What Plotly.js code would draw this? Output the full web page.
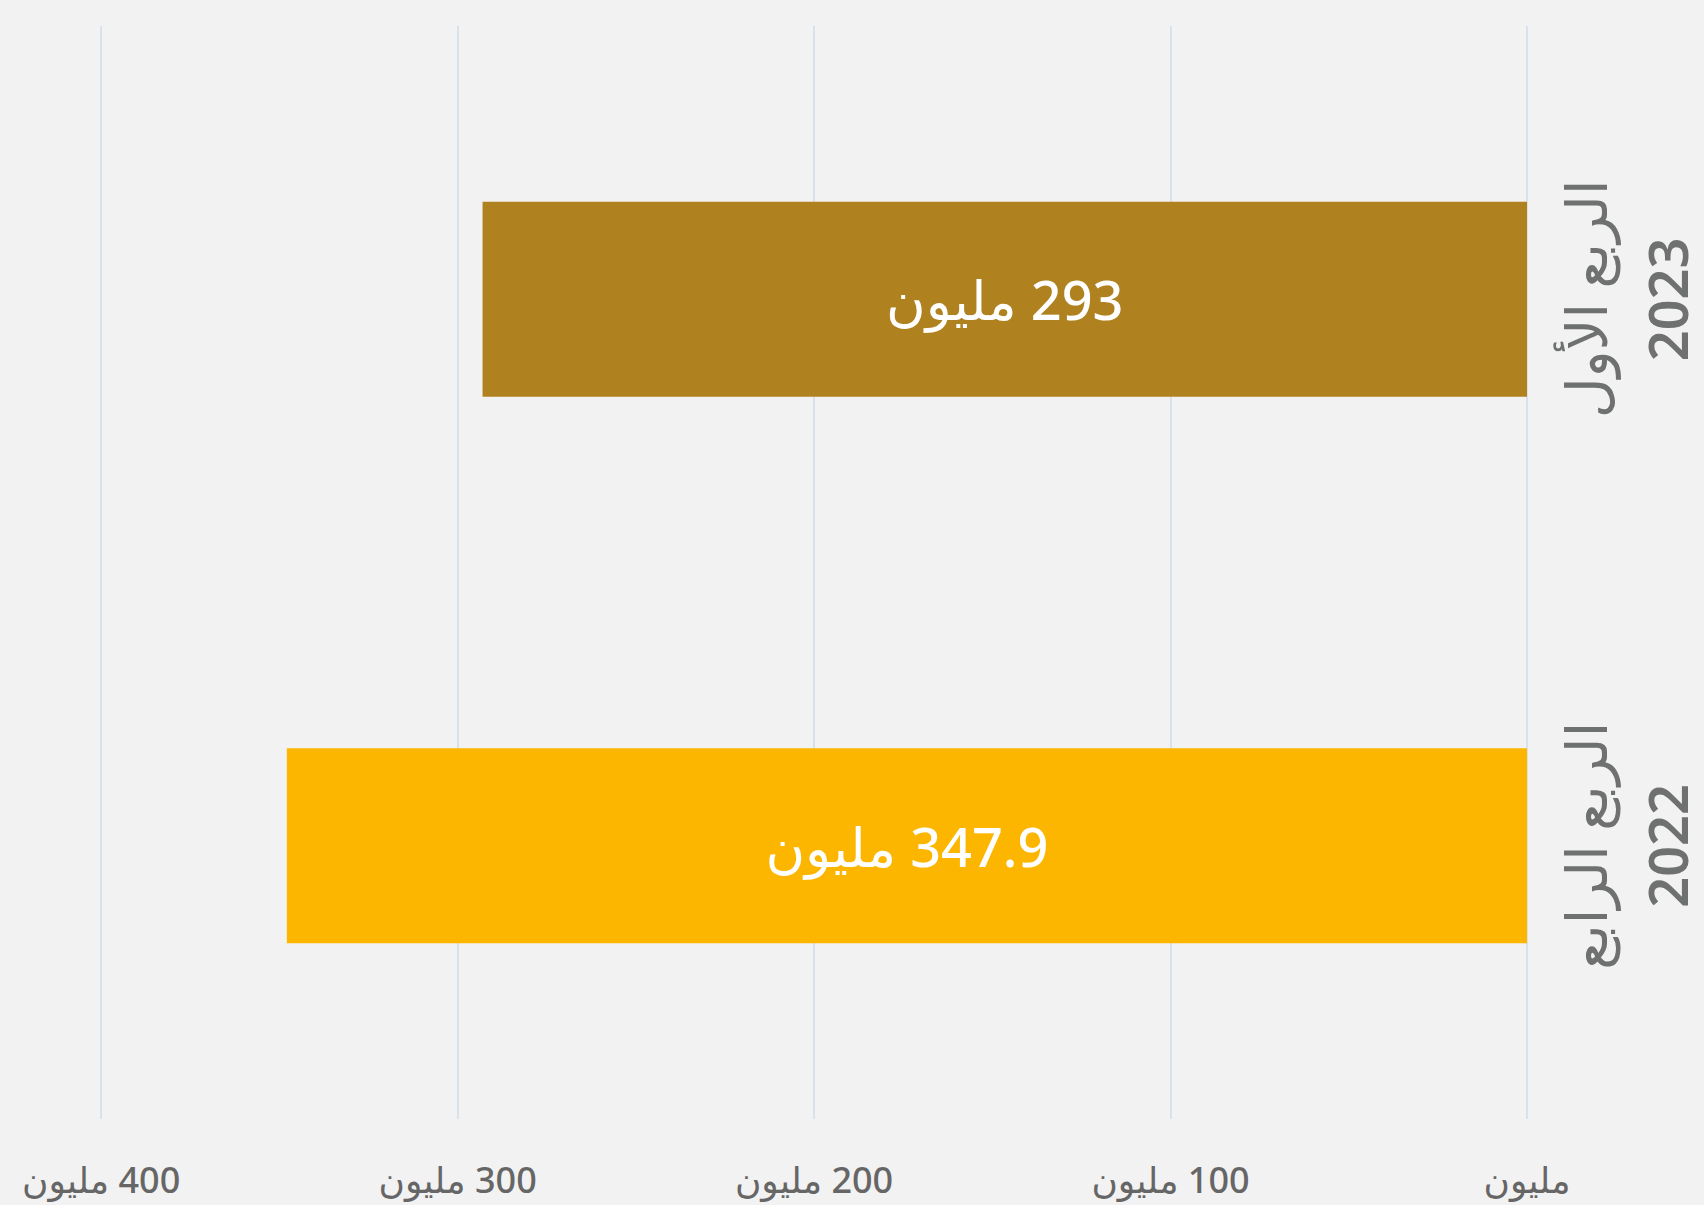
<!DOCTYPE html>
<html>
<head>
<meta charset="utf-8">
<script src="https://cdn.plot.ly/plotly-3.0.1.min.js"></script>
<style>
  html, body { margin: 0; padding: 0; background: #F2F2F2; }
  #chart { width: 1704px; height: 1205px; }
</style>
</head>
<body>
<div id="chart"></div>
<script>
const RLM = '\u200F';
const categories = ['2022 Q4', '2023 Q1'];
const quarterLabels = ['الربع الرابع', 'الربع الأول'];
const yearLabels = ['2022', '2023'];
const values = [347.9, 293];
const barColors = ['#FDB600', '#AF821F'];
const unit = 'مليون';
const tickValues = [0, 100, 200, 300, 400];
const tickLabels = ['مليون', '100 مليون', '200 مليون', '300 مليون', '400 مليون'];

const FONT = 'Noto Sans, DejaVu Sans, sans-serif';
const LABEL_COLOR = '#6F7070';

const trace = {
  type: 'bar',
  orientation: 'h',
  y: categories,
  x: values,
  width: 0.357,
  marker: { color: barColors, line: { width: 0 } },
  text: values.map(v => RLM + v + ' ' + unit),
  textposition: 'inside',
  insidetextanchor: 'middle',
  constraintext: 'none',
  textfont: { family: FONT, size: 54, color: '#FFFFFF', weight: 500 },
  hoverinfo: 'none'
};

const annotations = [];
categories.forEach((c, i) => {
  annotations.push({
    xref: 'paper', yref: 'y', x: 1, y: c, xshift: 58,
    xanchor: 'center', yanchor: 'middle',
    text: quarterLabels[i], textangle: -90, showarrow: false,
    font: { family: FONT, size: 56, color: LABEL_COLOR, weight: 500 }
  });
  annotations.push({
    xref: 'paper', yref: 'y', x: 1, y: c, xshift: 140,
    xanchor: 'center', yanchor: 'middle',
    text: yearLabels[i], textangle: -90, showarrow: false,
    font: { family: FONT, size: 54, color: LABEL_COLOR, weight: 600 }
  });
});

const layout = {
  width: 1704,
  height: 1205,
  paper_bgcolor: '#F2F2F2',
  plot_bgcolor: '#F2F2F2',
  margin: { l: 94, r: 177, t: 26, b: 86 },
  showlegend: false,
  annotations: annotations,
  xaxis: {
    range: [402, 0],
    tickvals: tickValues,
    ticktext: tickLabels.map(t => RLM + t),
    showgrid: true,
    gridcolor: '#D9E1EA',
    gridwidth: 2,
    zeroline: true,
    zerolinecolor: '#D9E1EA',
    zerolinewidth: 2,
    showline: false,
    ticks: '',
    ticklabelstandoff: 37,
    tickfont: { family: FONT, size: 36, color: '#666666', weight: 500 },
    fixedrange: true
  },
  yaxis: {
    side: 'right',
    range: [-0.5, 1.5],
    type: 'category',
    showgrid: false,
    zeroline: false,
    showline: false,
    showticklabels: false,
    ticks: '',
    fixedrange: true
  }
};

Plotly.newPlot('chart', [trace], layout, { displayModeBar: false, staticPlot: true });
</script>
</body>
</html>
